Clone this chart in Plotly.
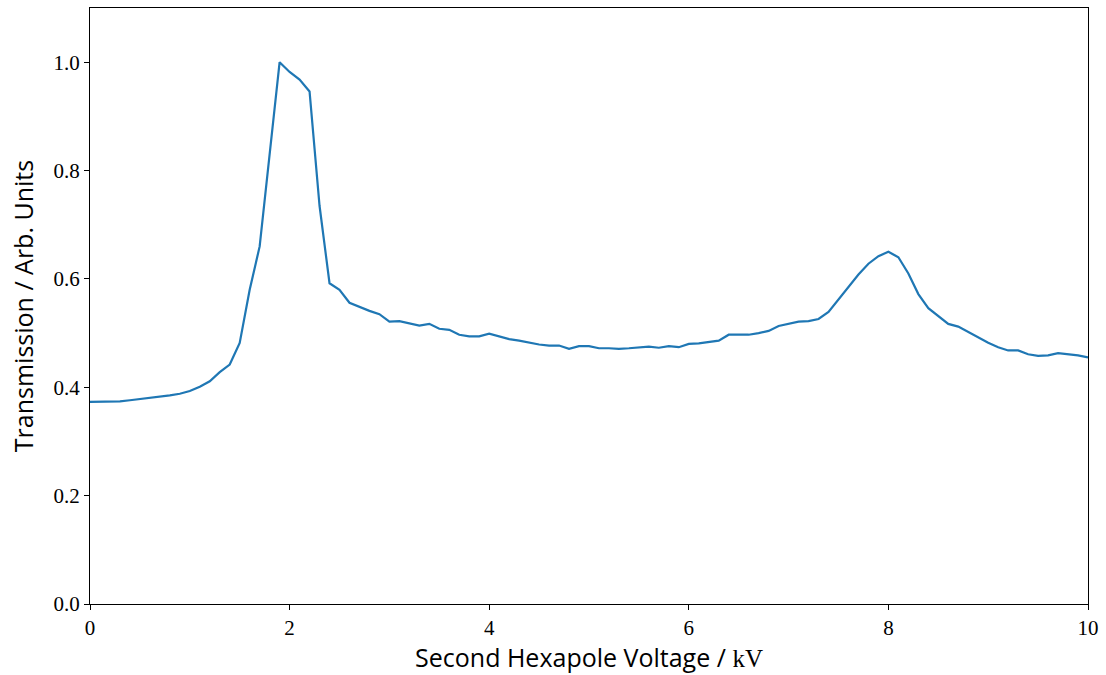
import plotly.graph_objects as go

voltage = [round(i * 0.1, 1) for i in range(101)]
transmission = [
    0.373, 0.373, 0.373, 0.374, 0.376, 0.378, 0.380, 0.382, 0.385, 0.388,
    0.393, 0.401, 0.411, 0.428, 0.442, 0.482, 0.580, 0.660, 0.835, 1.000,
    0.982, 0.968, 0.946, 0.735, 0.592, 0.580, 0.556, 0.548, 0.541, 0.535,
    0.521, 0.522, 0.518, 0.514, 0.517, 0.508, 0.506, 0.497, 0.494, 0.494,
    0.499, 0.494, 0.489, 0.486, 0.482, 0.479, 0.477, 0.477, 0.471, 0.476,
    0.476, 0.472, 0.472, 0.471, 0.472, 0.474, 0.475, 0.473, 0.476, 0.474,
    0.480, 0.481, 0.484, 0.486, 0.497, 0.497, 0.497, 0.500, 0.504, 0.513,
    0.517, 0.521, 0.522, 0.526, 0.539, 0.562, 0.585, 0.608, 0.628, 0.642,
    0.650, 0.640, 0.610, 0.572, 0.546, 0.531, 0.517, 0.512, 0.502, 0.492,
    0.482, 0.474, 0.468, 0.468, 0.461, 0.458, 0.459, 0.463, 0.461, 0.459,
    0.455,
]
x_ticks = [0, 2, 4, 6, 8, 10]
y_ticks = [0.0, 0.2, 0.4, 0.6, 0.8, 1.0]
y_tick_labels = ["0.0", "0.2", "0.4", "0.6", "0.8", "1.0"]

fig = go.Figure()
fig.add_trace(go.Scatter(x=voltage, y=transmission, mode="lines",
                         line=dict(color="#1f77b4", width=2.2), showlegend=False))

tick_font = dict(family="Liberation Serif, DejaVu Serif, serif", size=21, color="black")
title_font = dict(family="Open Sans, DejaVu Sans, sans-serif", size=25, color="black")

fig.update_layout(
    width=1106, height=675,
    margin=dict(l=90, r=13, t=7, b=71),
    plot_bgcolor="white", paper_bgcolor="white",
    xaxis=dict(
        range=[0, 10], tickvals=x_ticks, ticktext=[str(t) for t in x_ticks],
        showgrid=False, zeroline=False, showline=True, linecolor="black", linewidth=1.2,
        mirror=True, ticks="outside", ticklen=5, tickwidth=1.2, tickcolor="black",
        tickfont=tick_font,
        title=dict(text='Second Hexapole Voltage / <span style="font-family:Liberation Serif">kV</span>',
                   font=title_font, standoff=9),
    ),
    yaxis=dict(
        range=[0, 1.1], tickvals=y_ticks, ticktext=y_tick_labels,
        showgrid=False, zeroline=False, showline=True, linecolor="black", linewidth=1.2,
        mirror=True, ticks="outside", ticklen=5, tickwidth=1.2, tickcolor="black",
        tickfont=tick_font,
        title=dict(text="Transmission / Arb. Units", font=title_font, standoff=12),
    ),
)

fig.write_html("out.html")
